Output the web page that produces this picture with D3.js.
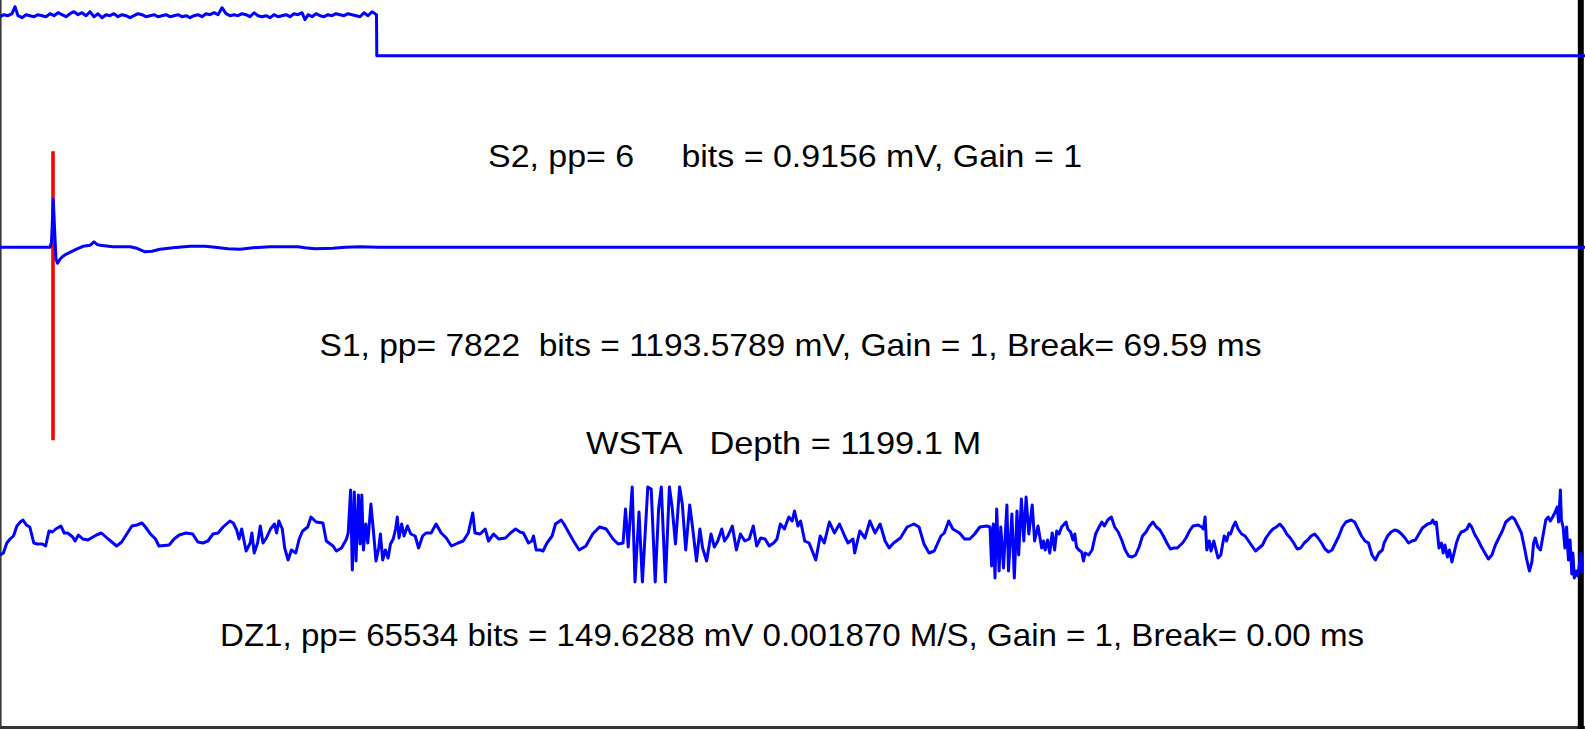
<!DOCTYPE html>
<html><head><meta charset="utf-8">
<script src="https://cdn.jsdelivr.net/npm/d3@7"></script>
<style>html,body{margin:0;padding:0;background:#fff;overflow:hidden}</style>
</head><body>
<svg id="c" width="1585" height="729"></svg>
<script>
// ---------- DATA (time in samples, amplitude in display counts) ----------
const s2Time = [0,4,8,12,15,18,22,26,30,34,38,42,46,50,54,58,62,66,70,74,78,82,86,90,94,98,102,106,110,114,118,122,126,130,134,138,142,146,150,154,158,162,166,170,174,178,182,186,190,194,198,202,206,210,214,218,222,226,230,234,238,242,246,250,254,258,262,266,270,274,278,282,286,290,294,298,302,305,308,312,316,320,324,328,332,336,340,344,348,352,356,360,364,368,372,375,376.5,376.8,1585];
const s2Amp  = [39,41,40,42,49,40,38,41,40,39,41,40,39,42,40,43,41,39,42,44,41,43,40,44,39,42,38,41,40,42,39,41,40,38,40,42,41,39,40,41,39,40,41,39,40,41,39,40,38,40,41,39,42,41,43,41,48,42,40,41,40,42,41,39,43,40,39,40,38,41,39,40,41,39,42,41,43,36,41,39,42,40,39,41,40,42,41,40,42,41,40,39,43,40,44,42,41,0,0];

const s1Time = [0,50,51.5,53.3,54.5,56,57.5,60,63,66,70,76,83,90,94,97,100,113,130,137,145,152,160,173,190,205,215,228,240,253,270,298,305,315,333,345,360,377,1585];
const s1Amp  = [0,0,5,48,20,-12,-16,-12,-9,-7,-5,-2,1,2,5.5,3,2,0.5,0.5,-1,-4.5,-4,-2,-0.5,1,1,0,-1.5,-2,-0.5,0.5,0.5,-0.5,-1.5,-1,0,0.5,0,0];
const s1Break = 53;

const dz1Time = [0,3.4,6.8,10.1,13.5,16.9,20.3,23,26.4,29.8,33.8,37.2,42.3,45.6,49,52.4,55.8,60.9,64.2,67.6,72.7,75.1,78.4,82.8,87.9,96.4,101.4,108.2,116.6,121.7,126.8,131.9,136.9,142,145.4,150.5,155.5,158.9,169.1,174.1,179.2,186,192.7,197.8,202.9,207.9,213,218.1,223.1,229.9,233.3,236.7,239,241.7,244.1,246.1,250.2,251.9,254.2,257.6,260.3,263,266.4,270.5,274.5,276.6,278.9,282.3,284.7,288.1,291.4,295.8,299.2,302.6,307.7,311,316.1,322.9,326.3,333,336.4,341.5,346.5,348.2,350.6,352.3,354.3,356,358.4,360.1,361.8,363.4,365.8,367.8,370.9,373.6,376,378.7,380.4,382.7,385.4,388.1,390.5,393.2,395.6,397.3,399,401.7,404,407.4,410.8,415.2,418.6,422.6,426,431.1,436.1,441.2,446.3,451.4,458.1,463.2,468.3,472.7,475,480.1,485.2,488.5,493.6,498.7,505.5,510.5,515.6,
520,523.4,528.5,531.8,533.5,536.2,540.3,543,547,552.1,555.5,561.2,564,569,574.1,579.2,585.9,592.7,599.5,606.2,613,618.1,623.1,625.5,628.2,632.2,635,639,642.4,647.8,651.2,655.2,658.6,661.3,665.4,669.4,672.1,675.5,679.6,682.3,685.7,689.7,692.4,696.5,699.9,702.6,706.6,711,714.4,717.8,721.8,724.5,727.9,732.3,736.4,740.4,744.8,749.2,753.3,756.7,760.7,765.1,769.2,773.6,777,780.3,784.4,788.8,792.2,794.5,797.9,800.6,804.7,809.1,815.8,820.2,824.3,829.4,834.4,839.5,844.6,848,853,854.7,859.8,864.9,869.9,875,880.1,885.1,889.2,893.6,900.4,907.1,913.9,919,924,929.1,934.2,940.9,944.3,948.7,952.8,959.5,964.6,969.7,974.7,979.8,986.6,990,991.6,993.3,995,996.7,999.1,1000.8,1003.5,1006.9,1008.5,1011.9,1014.3,1017,1018.7,1021.4,1023.8,1026.1,1028.8,1032.2,1034.6,1038,
1040,1041.7,1043.5,1045.2,1047.6,1049.7,1052.2,1054.6,1056.7,1059.1,1061.6,1064.3,1066.1,1067.8,1070.6,1073,1074.8,1076.5,1078.9,1081.7,1083.5,1085.2,1088.7,1092.1,1095.6,1099.1,1101.9,1104.3,1107.8,1111.3,1114.7,1118.2,1121.7,1125.2,1128.6,1132.1,1135.6,1139.1,1142.5,1146,1149.5,1153,1156.4,1159.9,1163.4,1166.9,1170.4,1173.8,1177.3,1182.5,1186,1189.5,1192.9,1198.2,1201.6,1203.4,1205.1,1206.8,1209.3,1211,1213.8,1215.5,1218,1220.8,1222.5,1224.2,1226.7,1228.7,1230.5,1232.9,1235.4,1238.1,1241.6,1245.1,1248.6,1252,1255.5,1259,1262.5,1265.9,1269.4,1272.9,1276.4,1279.8,1283.3,1286.8,1290.3,1293.7,1297.2,1300.7,1304.2,1307.7,1311.1,1314.6,1318.1,1321.6,1325,1328.5,1332,1335.5,1338.9,1342.4,1345.9,1351.1,1354.6,1358.1,1361.5,1365,1368.5,1372,1375.4,1378.9,1382.4,1384.1,1387.6,1391.1,1394.6,1398,1401.5,1405,1408.5,1411.9,1415.4,1418.9,1422.4,1427.6,1431,1432.8,1434.5,1436.3,1439,1441.5,1443.2,1445,1447.4,1449.5,1451.9,1454.3,1456.4,1458.9,1461.3,1464.1,1466.9,1469.3,1471.7,1474.5,1478,1481.5,1484.9,1488.4,1491.9,1495.4,1498.8,1502.3,1505.8,1509.3,1512,1514.5,1518,1521.4,1524.9,1526.6,1529.4,1531.9,1533.6,1535.3,1537.8,1540.5,1543.3,1545.8,1548.2,1550.3,1552.7,1555.2,1557.2,1558.6,1560.4,1561.4,1563.1,1564.9,1566.6,1568.4,1570.1,1571.8,1572.9,1574.3,1576,1577.7,1579.5,1580.9,1582.2];
const dz1Amp = [-25,-23,-13,-9,-6,4,8,10,5,3,-13,-14,-14,-16,-1,-2,1,4,-3,-3,-7,-11,-5,-9,-10,-5,-3,-9,-16,-12,-4,4,5,7,3,-4,-9,-16,-15,-9,-5,-3,-4,-12,-13,-11,-4,-3,3,9,7,0,-9,1,-11,-21,-13,-3,-23,-13,4,-13,-8,1,6,-3,9,1,-18,-30,-20,-23,-9,-1,3,13,8,7,-11,-16,-21,-18,-9,-3,40,-40,38,-31,35,-14,35,-20,6,-13,26,-3,-31,-18,-4,-30,-20,-28,-14,-9,1,13,-8,6,-6,4,-4,-6,-18,-6,-3,-3,6,-3,-8,-16,-13,-11,-3,17,-3,-4,1,-11,-4,-9,-8,-3,1,
-2,-3,-13,-11,-6,-20,-20,-21,-13,-6,6,10,6,-3,-12,-20,-16,-4,3,1,-9,-14,-13,21,-17,43,-52,18,-52,43,41,-52,21,43,-52,43,23,-14,43,26,-20,25,4,-31,1,-18,-31,-4,-17,-11,1,-11,-6,4,-20,-4,-11,-9,4,-16,-8,-9,-16,-13,-9,6,1,13,9,19,4,9,-11,-13,-30,-6,-13,8,-3,6,-6,-13,-9,-23,-1,-8,9,-3,6,-11,-18,-13,-8,3,6,3,-14,-23,-21,-6,-3,9,1,-3,-9,-9,-4,3,4,3,-36,6,-48,21,-41,3,-38,25,-41,16,-48,19,-25,31,-11,33,-4,25,-11,4,
-8,-18,-11,-20,-10,-23,-3,-20,-1,-4,3,6,8,1,-2,-10,-4,-17,-20,-22,-31,-23,-25,-20,-4,3,8,4,10,13,3,-2,-10,-20,-26,-27,-25,-17,-6,-2,4,8,3,0,-6,-13,-19,-18,-18,-13,-8,-1,4,5,3,1,13,-20,-11,-21,-11,-18,-28,-25,-15,-6,-11,-3,-4,3,8,1,-4,-6,-11,-16,-21,-18,-15,-8,-3,1,3,6,2,-4,-8,-13,-19,-18,-13,-10,-6,-4,-8,-13,-19,-22,-20,-13,-6,3,8,10,8,1,-6,-11,-13,-25,-30,-23,-20,-13,-6,-2,0,-1,-4,-8,-13,-11,-10,-4,2,6,7,10,6,8,-18,-13,-23,-15,-27,-20,-32,-22,-13,-6,-2,-1,1,6,3,-4,-10,-17,-23,-29,-25,-15,-8,-1,8,11,13,11,4,-3,-20,-29,-41,-32,-13,-8,-17,-20,-4,10,13,9,13,18,23,8,40,10,3,-18,3,-30,-10,-44,-23,-48,-41,-46,-34,-23,-44];

const labels = [
  {trace: "S2",  text: "S2, pp= 6     bits = 0.9156 mV, Gain = 1"},
  {trace: "S1",  text: "S1, pp= 7822  bits = 1193.5789 mV, Gain = 1, Break= 69.59 ms"},
  {trace: "HDR", text: "WSTA   Depth = 1199.1 M"},
  {trace: "DZ1", text: "DZ1, pp= 65534 bits = 149.6288 mV 0.001870 M/S, Gain = 1, Break= 0.00 ms"}
];

// ---------- LAYOUT ----------
const svg = d3.select("#c");
const x = d3.scaleLinear().domain([0, 1585]).range([0, 1585]);
const yS2 = d3.scaleLinear().domain([0, 40]).range([55.7, 15.7]);
const yS1 = d3.scaleLinear().domain([0, 48]).range([247.3, 199.3]);
const yDZ1 = d3.scaleLinear().domain([0, 50]).range([530, 480]);
const labelPos = {
  S2:  {x: 488, y: 167, w: 594},
  S1:  {x: 319.5, y: 356, w: 942},
  HDR: {x: 586, y: 454, w: 395},
  DZ1: {x: 220, y: 646, w: 1144}
};

// frame
svg.append("rect").attr("x",0).attr("y",0).attr("width",1.6).attr("height",729).attr("fill","#3a3a3a");
svg.append("rect").attr("x",0).attr("y",726).attr("width",1585).attr("height",3).attr("fill","#333");
svg.append("rect").attr("x",1577.8).attr("y",0).attr("width",6).attr("height",729).attr("fill","#000");

// break marker (red) on S1
svg.append("line")
  .attr("x1", x(s1Break)).attr("x2", x(s1Break))
  .attr("y1", yS1(96)).attr("y2", yS1(-193))
  .attr("stroke", "#ff0000").attr("stroke-width", 3.6);

const line = (ys) => d3.line().x(d => x(d[0])).y(d => ys(d[1]));
function trace(t, a, ys) {
  svg.append("path").datum(t.map((v,i)=>[v,a[i]]))
    .attr("d", line(ys)).attr("fill","none")
    .attr("stroke","#0000ff").attr("stroke-width",3).attr("stroke-linejoin","round");
}
trace(s2Time, s2Amp, yS2);
trace(s1Time, s1Amp, yS1);
trace(dz1Time, dz1Amp, yDZ1);

// labels
labels.forEach(l => {
  const p = labelPos[l.trace];
  svg.append("text").attr("x", p.x).attr("y", p.y)
    .attr("textLength", p.w).attr("lengthAdjust","spacingAndGlyphs")
    .style("white-space","pre")
    .attr("font-family","'Liberation Sans', Arial, sans-serif")
    .attr("font-size", 32).attr("fill","#000")
    .text(l.text);
});
</script>
</body></html>
